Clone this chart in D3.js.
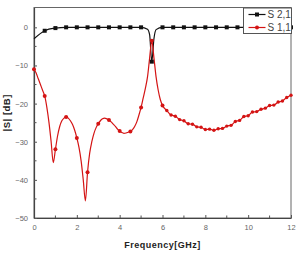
<!DOCTYPE html>
<html>
<head>
<meta charset="utf-8">
<script src="https://cdn.jsdelivr.net/npm/d3@7"></script>
<style>
  body { margin: 0; background: #fff; }
  svg { display: block; font-family: Arial, "Liberation Sans", sans-serif; }
</style>
</head>
<body>
<div id="vis"></div>
<script>
// data
var s21Freq = [0, 0.5, 1, 1.5, 2, 2.5, 3, 3.5, 4, 4.5, 5, 5.3, 5.4, 5.5, 5.6, 5.7, 6, 6.5, 7, 7.5, 8, 8.5, 9, 9.5, 10, 10.5, 11, 11.5, 12];
var s21dB   = [-3, -0.9, -0.2, 0, 0, 0, 0, 0, 0, 0, 0, -0.5, -2, -9, -3, -0.6, 0, 0, 0, 0, 0, 0, 0, 0, 0, 0, 0, 0, 0];

var s11Freq = [0, 0.1, 0.2, 0.3, 0.4, 0.5, 0.6, 0.7, 0.8, 0.9, 1, 1.1, 1.2, 1.3, 1.4, 1.5, 1.6, 1.7, 1.8, 1.9,
  2, 2.1, 2.2, 2.3, 2.4, 2.5, 2.6, 2.7, 2.8, 2.9, 3, 3.1, 3.2, 3.3, 3.4, 3.5, 3.6, 3.7, 3.8, 3.9,
  4, 4.1, 4.2, 4.3, 4.4, 4.5, 4.6, 4.7, 4.8, 4.9, 5, 5.1, 5.2, 5.3, 5.4, 5.5, 5.6, 5.7, 5.8, 5.9,
  6, 6.2, 6.4, 6.6, 6.8, 7, 7.2, 7.4, 7.6, 7.8, 8, 8.2, 8.4, 8.6, 8.8, 9, 9.2, 9.4, 9.6, 9.8,
  10, 10.2, 10.4, 10.6, 10.8, 11, 11.2, 11.4, 11.6, 11.8, 12];
var s11dB = [-11, -12, -13.5, -15, -16.5, -18, -21, -25, -30, -35.5, -32, -28.5, -26, -24.5, -23.8, -23.5, -23.8, -24.5, -25.5, -27,
  -29, -31.5, -35, -40, -45.5, -38, -33, -30, -27.8, -26.3, -25.3, -24.5, -24, -23.8, -24, -24.3, -24.8, -25.4, -26, -26.7,
  -27.2, -27.6, -27.8, -27.7, -27.5, -27.3, -26.8, -26, -24.8, -23, -21, -18.5, -16, -13, -8, -3.5, -8, -13, -16.5, -19,
  -20.5, -21.8, -23, -23.3, -24.2, -24.5, -25.3, -25.4, -26.1, -26.2, -26.8, -26.7, -27, -26.6, -26.5, -25.9, -25.7, -24.7, -24.4, -23.4,
  -23.2, -22.2, -22.1, -21.5, -21.2, -20.5, -20.4, -19.6, -19.3, -18.4, -17.8];

var xTicks = [0, 2, 4, 6, 8, 10, 12];
var yTicks = [-50, -40, -30, -20, -10, 0];
var legendKeys = ["S 2,1", "S 1,1"];

var W = 296, H = 255;
var margin = {top: 7.5, right: 5, bottom: 37, left: 34};
var width = W - margin.left - margin.right;
var height = H - margin.top - margin.bottom;

var svg = d3.select("#vis").append("svg")
  .attr("width", W).attr("height", H);

var g = svg.append("g")
  .attr("transform", "translate(" + margin.left + "," + margin.top + ")");

var x = d3.scaleLinear().domain([0, 12]).range([0, width]);
var y = d3.scaleLinear().domain([-50, 5.2]).range([height, 0]);

var black = "#111", red = "#d41414", axisCol = "#555";

// frame
g.append("rect").attr("width", width).attr("height", height)
  .attr("fill", "none").attr("stroke", "#666").attr("stroke-width", 1);

// bottom axis: inward ticks, minor at odd values
var xAx = g.append("g").attr("transform", "translate(0," + height + ")")
  .call(d3.axisBottom(x).tickValues(xTicks).tickSizeInner(-3).tickSizeOuter(0).tickPadding(7));
xAx.append("g").selectAll("line").data(d3.range(1, 12, 2)).enter().append("line")
  .attr("x1", x).attr("x2", x).attr("y1", 0).attr("y2", -2.5).attr("stroke", axisCol);

var yAx = g.append("g")
  .call(d3.axisLeft(y).tickValues(yTicks).tickSizeInner(-3).tickSizeOuter(0).tickPadding(6));
yAx.append("g").selectAll("line").data([-45, -35, -25, -15, -5]).enter().append("line")
  .attr("y1", y).attr("y2", y).attr("x1", 0).attr("x2", 2.5).attr("stroke", axisCol);

g.selectAll(".domain").attr("stroke", "#444").attr("stroke-width", 1.2);
g.selectAll(".tick line").attr("stroke", axisCol);
g.selectAll(".tick text").attr("fill", "#666").attr("font-size", 7.5);

// axis titles
svg.append("text")
  .attr("x", margin.left + width / 2).attr("y", 248)
  .attr("text-anchor", "middle").attr("font-size", 9).attr("font-weight", "bold")
  .attr("fill", "#222").attr("letter-spacing", 0.5)
  .text("Frequency[GHz]");

svg.append("text")
  .attr("transform", "translate(10," + (margin.top + height / 2) + ") rotate(-90)")
  .attr("text-anchor", "middle").attr("font-size", 9.5).attr("font-weight", "bold")
  .attr("fill", "#222").attr("letter-spacing", 0.5)
  .text("|S| [dB]");

var line = d3.line()
  .curve(d3.curveMonotoneX)
  .x(function(d) { return x(d[0]); })
  .y(function(d) { return y(d[1]); });

var s21 = s21Freq.map(function(f, i) { return [f, s21dB[i]]; });
var s11 = s11Freq.map(function(f, i) { return [f, s11dB[i]]; });

function onHalf(d) { return Math.abs(d[0] * 2 - Math.round(d[0] * 2)) < 1e-6; }

g.append("path").datum(s21).attr("d", line)
  .attr("fill", "none").attr("stroke", black).attr("stroke-width", 1.2);
g.append("path").datum(s11).attr("d", line)
  .attr("fill", "none").attr("stroke", red).attr("stroke-width", 1.2);

// markers
g.selectAll(".m21").data(s21.filter(function(d) { return onHalf(d) && d[0] > 0; }))
  .enter().append("rect").attr("class", "m21")
  .attr("x", function(d) { return x(d[0]) - 2; })
  .attr("y", function(d) { return y(d[1]) - 2; })
  .attr("width", 4).attr("height", 4).attr("fill", black);

g.selectAll(".m11").data(s11.filter(function(d) { return d[0] >= 6 || onHalf(d); }))
  .enter().append("circle").attr("class", "m11")
  .attr("cx", function(d) { return x(d[0]); })
  .attr("cy", function(d) { return y(d[1]); })
  .attr("r", function(d) { return d[0] > 6 ? 1.7 : 2; }).attr("fill", red);

// legend
var lg = svg.append("g").attr("transform", "translate(243.5,8)");
lg.append("rect").attr("width", 48).attr("height", 25.5)
  .attr("fill", "#fff").attr("stroke", "#555").attr("stroke-width", 1);

var item = lg.selectAll(".item").data(legendKeys).enter().append("g")
  .attr("transform", function(d, i) { return "translate(0," + (6.5 + i * 13) + ")"; });
item.append("line").attr("x1", 5).attr("x2", 22).attr("y1", 0).attr("y2", 0)
  .attr("stroke", function(d, i) { return i ? red : black; }).attr("stroke-width", 1.2);
item.filter(function(d, i) { return i === 0; }).append("rect")
  .attr("x", 11.5).attr("y", -2).attr("width", 4).attr("height", 4).attr("fill", black);
item.filter(function(d, i) { return i === 1; }).append("circle")
  .attr("cx", 13.5).attr("cy", 0).attr("r", 2).attr("fill", red);
item.append("text").attr("x", 24).attr("y", 0).attr("dy", "0.35em")
  .attr("font-size", 10).attr("fill", "#444").text(function(d) { return d; });
</script>
</body>
</html>
